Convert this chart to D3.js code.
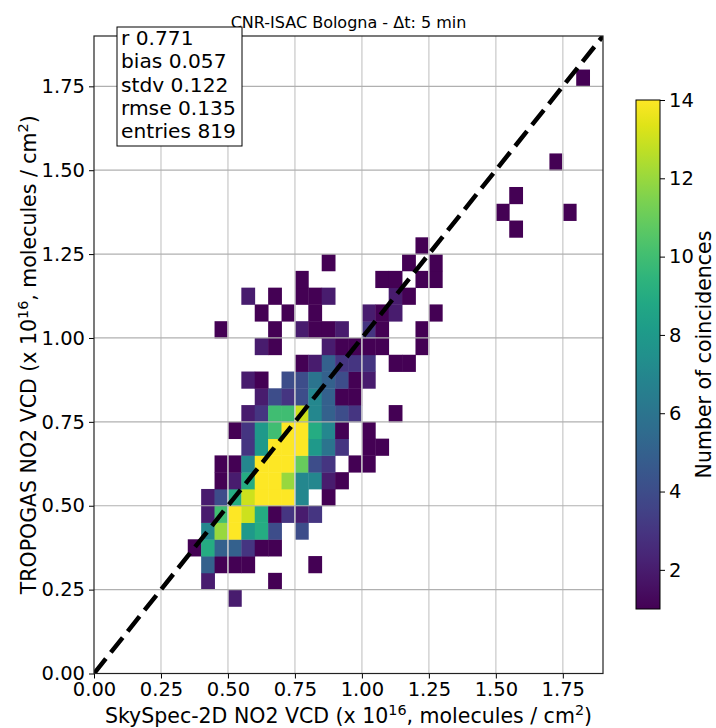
<!DOCTYPE html>
<html>
<head>
<meta charset="utf-8">
<script src="https://cdn.jsdelivr.net/npm/d3@7"></script>
<style>
  body { margin: 0; background: #fff; }
  svg { display: block; font-family: "DejaVu Sans", sans-serif; }
</style>
</head>
<body>
<svg id="chart" width="716" height="728"></svg>
<script>
// 2-D histogram of coincident NO2 VCDs, 0.05 x 0.05 bins (x 10^16 molecules / cm^2)
const binSize = 0.05;
// lower-left corner of every filled bin and its number of coincidences
const binX = [
  0.50,
  0.40, 0.65,
  0.40, 0.45, 0.50, 0.55, 0.80,
  0.35, 0.40, 0.45, 0.50, 0.55, 0.60, 0.65,
  0.40, 0.45, 0.50, 0.55, 0.60, 0.65, 0.75,
  0.40, 0.45, 0.50, 0.55, 0.60, 0.65, 0.70, 0.75, 0.80,
  0.40, 0.45, 0.50, 0.55, 0.60, 0.65, 0.70, 0.75, 0.85,
  0.45, 0.50, 0.55, 0.60, 0.65, 0.70, 0.75, 0.80, 0.85, 0.90,
  0.45, 0.50, 0.55, 0.60, 0.65, 0.70, 0.75, 0.80, 0.85, 0.95, 1.00,
  0.55, 0.60, 0.65, 0.70, 0.75, 0.80, 0.85, 0.90, 1.00, 1.05,
  0.50, 0.55, 0.60, 0.65, 0.70, 0.75, 0.80, 0.85, 0.90, 1.00,
  0.55, 0.60, 0.65, 0.70, 0.75, 0.80, 0.85, 0.90, 0.95, 1.10,
  0.60, 0.65, 0.70, 0.75, 0.80, 0.85, 0.90, 0.95,
  0.55, 0.60, 0.70, 0.75, 0.80, 0.85, 0.90, 0.95, 1.00,
  0.75, 0.80, 0.85, 0.90, 0.95, 1.00, 1.10, 1.15,
  0.60, 0.65, 0.85, 0.90, 0.95, 1.00, 1.05, 1.20,
  0.45, 0.65, 0.75, 0.80, 0.85, 0.90, 1.00, 1.05, 1.20,
  0.60, 0.70, 0.80, 1.00, 1.05, 1.10, 1.25,
  0.55, 0.65, 0.75, 0.80, 0.85, 1.10, 1.15,
  0.75, 1.05, 1.10, 1.20, 1.25,
  0.85, 1.15, 1.25,
  1.20,
  1.55,
  1.50, 1.75,
  1.55,
  1.70,
  1.80
];
const binY = [
  0.20,
  0.25, 0.25,
  0.30, 0.30, 0.30, 0.30, 0.30,
  0.35, 0.35, 0.35, 0.35, 0.35, 0.35, 0.35,
  0.40, 0.40, 0.40, 0.40, 0.40, 0.40, 0.40,
  0.45, 0.45, 0.45, 0.45, 0.45, 0.45, 0.45, 0.45, 0.45,
  0.50, 0.50, 0.50, 0.50, 0.50, 0.50, 0.50, 0.50, 0.50,
  0.55, 0.55, 0.55, 0.55, 0.55, 0.55, 0.55, 0.55, 0.55, 0.55,
  0.60, 0.60, 0.60, 0.60, 0.60, 0.60, 0.60, 0.60, 0.60, 0.60, 0.60,
  0.65, 0.65, 0.65, 0.65, 0.65, 0.65, 0.65, 0.65, 0.65, 0.65,
  0.70, 0.70, 0.70, 0.70, 0.70, 0.70, 0.70, 0.70, 0.70, 0.70,
  0.75, 0.75, 0.75, 0.75, 0.75, 0.75, 0.75, 0.75, 0.75, 0.75,
  0.80, 0.80, 0.80, 0.80, 0.80, 0.80, 0.80, 0.80,
  0.85, 0.85, 0.85, 0.85, 0.85, 0.85, 0.85, 0.85, 0.85,
  0.90, 0.90, 0.90, 0.90, 0.90, 0.90, 0.90, 0.90,
  0.95, 0.95, 0.95, 0.95, 0.95, 0.95, 0.95, 0.95,
  1.00, 1.00, 1.00, 1.00, 1.00, 1.00, 1.00, 1.00, 1.00,
  1.05, 1.05, 1.05, 1.05, 1.05, 1.05, 1.05,
  1.10, 1.10, 1.10, 1.10, 1.10, 1.10, 1.10,
  1.15, 1.15, 1.15, 1.15, 1.15,
  1.20, 1.20, 1.20,
  1.25,
  1.30,
  1.35, 1.35,
  1.40,
  1.50,
  1.75
];
const binCount = [
  2,
  2, 1,
  5, 1, 1, 1, 1,
  1, 9, 5, 5, 3, 1, 1,
  7, 12, 14, 8, 9, 4, 4,
  2, 10, 14, 13, 9, 1, 3, 2, 3,
  2, 4, 9, 13, 14, 14, 14, 7, 1,
  1, 2, 9, 14, 14, 12, 7, 7, 2, 1,
  1, 1, 7, 14, 14, 14, 11, 4, 3, 1, 1,
  3, 8, 14, 14, 14, 8, 6, 3, 1, 1,
  1, 3, 8, 10, 14, 14, 9, 7, 1, 1,
  2, 3, 10, 10, 13, 7, 5, 4, 3, 1,
  2, 4, 3, 4, 7, 5, 1, 1,
  2, 1, 4, 4, 6, 5, 4, 1, 2,
  1, 2, 5, 3, 3, 3, 1, 1,
  2, 1, 2, 1, 1, 1, 1, 1,
  1, 1, 2, 1, 1, 2, 3, 1, 1,
  1, 1, 1, 2, 1, 2, 1,
  2, 1, 1, 1, 2, 2, 1,
  1, 1, 1, 1, 1,
  1, 1, 1,
  1,
  1,
  1, 1,
  1,
  1,
  1
];

const axisTicks = [0, 0.25, 0.5, 0.75, 1.0, 1.25, 1.5, 1.75];
const colorTicks = [2, 4, 6, 8, 10, 12, 14];
const statNames = ["r", "bias", "stdv", "rmse", "entries"];
const statValues = ["0.771", "0.057", "0.122", "0.135", "819"];
const chartTitle = "CNR-ISAC Bologna - \u0394t: 5 min";
const colorLabel = "Number of coincidences";

const svg = d3.select("#chart");
const plot = { left: 94, right: 603, top: 36, bottom: 673.5 };
const tickFont = 19.5;
const labelFont = 20.5;

const x = d3.scaleLinear().domain([0, 1.9]).range([plot.left, plot.right]);
const y = d3.scaleLinear().domain([0, 1.9]).range([plot.bottom, plot.top]);
const color = d3.scaleSequential(d3.interpolateViridis).domain([1, 14]).clamp(true);

svg.append("defs").append("clipPath").attr("id", "plotClip")
  .append("rect")
  .attr("x", plot.left).attr("y", plot.top)
  .attr("width", plot.right - plot.left).attr("height", plot.bottom - plot.top);

// histogram cells
const cells = binX.map((bx, k) => ({ x: bx, y: binY[k], n: binCount[k] }));
svg.append("g").selectAll("rect").data(cells).join("rect")
  .attr("x", d => x(d.x))
  .attr("y", d => y(d.y + binSize))
  .attr("width", d => x(d.x + binSize) - x(d.x) + 0.4)
  .attr("height", d => y(d.y) - y(d.y + binSize) + 0.4)
  .attr("fill", d => color(d.n));

// grid
const grid = svg.append("g");
grid.selectAll("line.v").data(axisTicks.slice(1)).join("line")
  .attr("class", "v")
  .attr("x1", d => x(d)).attr("x2", d => x(d))
  .attr("y1", plot.top).attr("y2", plot.bottom)
  .attr("stroke", "#d3d3d3").attr("stroke-width", 1.5);
grid.selectAll("line.h").data(axisTicks.slice(1)).join("line")
  .attr("class", "h")
  .attr("x1", plot.left).attr("x2", plot.right)
  .attr("y1", d => y(d)).attr("y2", d => y(d))
  .attr("stroke", "#b0b0b0").attr("stroke-width", 1.2);

// 1:1 line
svg.append("line")
  .attr("clip-path", "url(#plotClip)")
  .attr("x1", x(0)).attr("y1", y(0))
  .attr("x2", x(1.9)).attr("y2", y(1.9))
  .attr("stroke", "#000").attr("stroke-width", 4.5)
  .attr("stroke-dasharray", "19,8");

// axes
const xAxis = svg.append("g")
  .attr("transform", `translate(0,${plot.bottom})`)
  .call(d3.axisBottom(x).tickValues(axisTicks).tickFormat(d3.format(".2f")).tickSizeOuter(0).tickSize(5).tickPadding(4));
const yAxis = svg.append("g")
  .attr("transform", `translate(${plot.left},0)`)
  .call(d3.axisLeft(y).tickValues(axisTicks).tickFormat(d3.format(".2f")).tickSizeOuter(0).tickSize(5).tickPadding(4));
[xAxis, yAxis].forEach(g => {
  g.select(".domain").remove();
  g.selectAll("text").attr("font-size", tickFont).attr("font-family", "DejaVu Sans").attr("fill", "#000");
  g.selectAll("line").attr("stroke", "#000").attr("stroke-width", 1);
});

// frame
svg.append("rect")
  .attr("x", plot.left).attr("y", plot.top)
  .attr("width", plot.right - plot.left).attr("height", plot.bottom - plot.top)
  .attr("fill", "none").attr("stroke", "#222").attr("stroke-width", 1.2);

// title
svg.append("text")
  .attr("x", (plot.left + plot.right) / 2).attr("y", 28)
  .attr("text-anchor", "middle").attr("font-size", 16)
  .text(chartTitle);

// axis titles with superscripts
function labelWithPowers(sel, parts) {
  parts.forEach(([t, sup]) => {
    const ts = sel.append("tspan").text(t);
    if (sup) ts.attr("baseline-shift", "super").attr("font-size", labelFont * 0.7);
  });
}
const xLabel = svg.append("text")
  .attr("x", (plot.left + plot.right) / 2).attr("y", 723)
  .attr("text-anchor", "middle").attr("font-size", labelFont);
labelWithPowers(xLabel, [["SkySpec-2D NO2 VCD (x 10"], ["16", true], [", molecules / cm"], ["2", true], [")"]]);

const yLabel = svg.append("text")
  .attr("transform", `translate(36,${(plot.top + plot.bottom) / 2}) rotate(-90)`)
  .attr("text-anchor", "middle").attr("font-size", labelFont);
labelWithPowers(yLabel, [["TROPOGAS NO2 VCD (x 10"], ["16", true], [", molecules / cm"], ["2", true], [")"]]);

// statistics box
const box = svg.append("g");
box.append("rect")
  .attr("x", 117).attr("y", 27).attr("width", 125).attr("height", 119)
  .attr("fill", "#fff").attr("stroke", "#000").attr("stroke-width", 1);
box.selectAll("text").data(statNames).join("text")
  .attr("x", 121).attr("y", (d, i) => 45 + i * 23.3)
  .attr("font-size", 20.2)
  .text((d, i) => `${d} ${statValues[i]}`);

// colorbar
const cb = { left: 636, width: 24, top: 100, bottom: 609 };
const cy = d3.scaleLinear().domain([1, 14]).range([cb.bottom, cb.top]);
const grad = svg.select("defs").append("linearGradient")
  .attr("id", "cbGrad").attr("x1", 0).attr("y1", 1).attr("x2", 0).attr("y2", 0);
d3.range(0, 1.0001, 0.05).forEach(t => {
  grad.append("stop").attr("offset", t).attr("stop-color", d3.interpolateViridis(t));
});
svg.append("rect")
  .attr("x", cb.left).attr("y", cb.top).attr("width", cb.width).attr("height", cb.bottom - cb.top)
  .attr("fill", "url(#cbGrad)").attr("stroke", "#000").attr("stroke-width", 1);
const cAxis = svg.append("g")
  .attr("transform", `translate(${cb.left + cb.width},0)`)
  .call(d3.axisRight(cy).tickValues(colorTicks).tickSizeOuter(0).tickSize(5).tickPadding(4));
cAxis.select(".domain").remove();
cAxis.selectAll("text").attr("font-size", tickFont).attr("font-family", "DejaVu Sans").attr("fill", "#000");
cAxis.selectAll("line").attr("stroke", "#000");

svg.append("text")
  .attr("transform", `translate(711,${(cb.top + cb.bottom) / 2}) rotate(-90)`)
  .attr("text-anchor", "middle").attr("font-size", labelFont)
  .text(colorLabel);
</script>
</body>
</html>
